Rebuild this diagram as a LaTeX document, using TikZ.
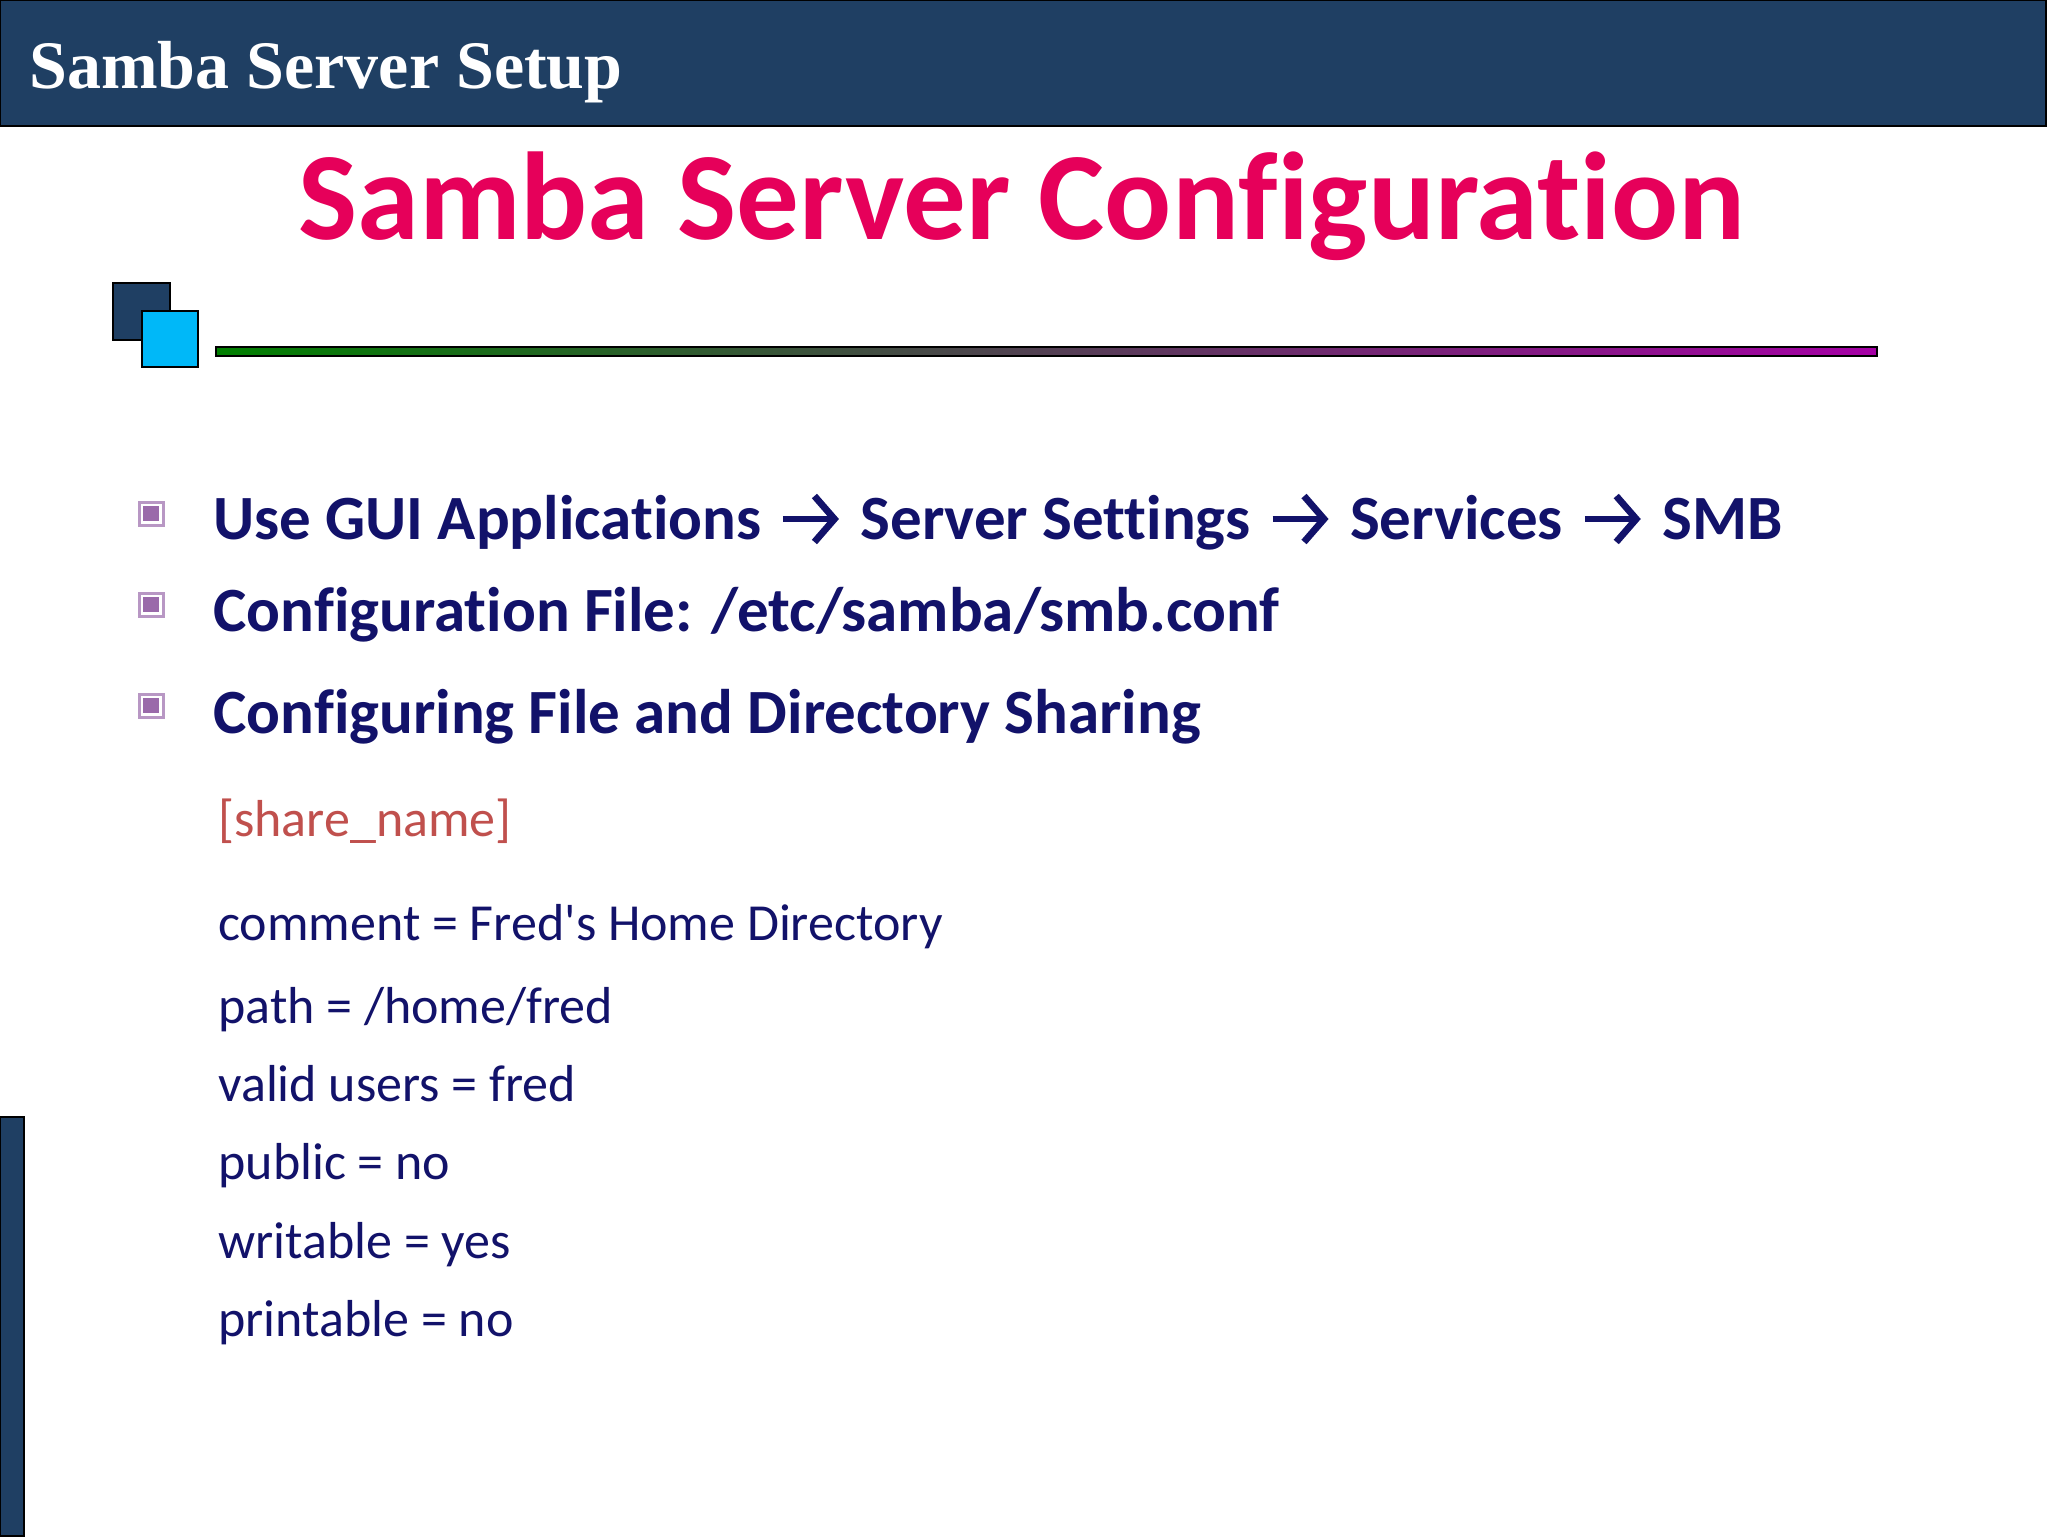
\documentclass[tikz,border=0pt]{standalone}
\usepackage{fontspec}
\setmainfont[Ligatures={NoCommon}]{Carlito}
\newfontfamily\hdrfont{Liberation Serif}
\usetikzlibrary{arrows.meta}
\definecolor{navy}{HTML}{1F3F63}
\definecolor{sky}{HTML}{00B8F8}
\definecolor{ttl}{HTML}{E6005A}
\definecolor{txt}{HTML}{12126A}
\definecolor{brk}{HTML}{C0504D}
\definecolor{bul}{HTML}{9A6AAA}
\newcommand{\rarrw}{\hspace{2pt}\tikz[baseline=0pt]\draw[txt,line width=3.4pt,-{Straight Barb[length=10pt,width=23pt,line width=3.4pt]}] (0,10pt) -- (28pt,10pt);\hspace{2pt}}
\begin{document}
\begin{tikzpicture}[x=0.5pt,y=-0.5pt,
  bt/.style={anchor=base west,inner sep=0,text=txt,font=\fontsize{31.5}{36}\selectfont\bfseries},
  ct/.style={anchor=base west,inner sep=0,text=txt,font=\fontsize{26}{30}\selectfont}]
\useasboundingbox (0,0) rectangle (2048,1536);
\fill[white] (0,0) rectangle (2048,1536);
\draw[fill=navy,line width=1.2pt] (0,0) rectangle (2046,126);
\node[anchor=base west,inner sep=0,text=white,font=\fontsize{34}{38}\selectfont\hdrfont\bfseries] (hdr) at (29,89) {Samba Server Setup};
\node[anchor=base,inner sep=0,text=ttl,font=\fontsize{62.5}{66}\selectfont\bfseries] (title) at (1022,239) {Samba Server Configuration};
\draw[fill=navy,line width=1pt] (113,283) rectangle (170,340);
\draw[fill=sky,line width=1pt] (142,311) rectangle (198,367);
\shade[left color=green!50!black,right color=violet!70!magenta] (216,347) rectangle (1877,356);
\draw[line width=0.8pt] (216,347) rectangle (1877,356);
\draw[fill=navy,line width=1pt] (0,1117) rectangle (24,1536);
\foreach \y/\n in {511/b1,602/b2,703/b3}{
  \draw[bul!70,line width=1.5pt] (139,\y-9) rectangle (163,\y+14);
  \fill[bul] (143,\y-5) rectangle (159,\y+10);
}
\node[bt] (l1) at (213,539) {Use GUI Applications \rarrw{} Server Settings \rarrw{} Services \rarrw{} SMB};
\node[bt] (l2) at (213,631) {Configuration File: /etc/samba/smb.conf};
\node[bt] (l3) at (213,733) {Configuring File and Directory Sharing};
\node[ct,text=brk] (c0) at (218,836) {[share\_name]};
\node[ct] (c1) at (218,940) {comment = Fred\textquotesingle s Home Directory};
\node[ct] (c2) at (218,1023) {path = /home/fred};
\node[ct] (c3) at (218,1101) {valid users = fred};
\node[ct] (c4) at (218,1179) {public = no};
\node[ct] (c5) at (218,1258) {writable = yes};
\node[ct] (c6) at (218,1336) {printable = no};
\end{tikzpicture}
\end{document}
